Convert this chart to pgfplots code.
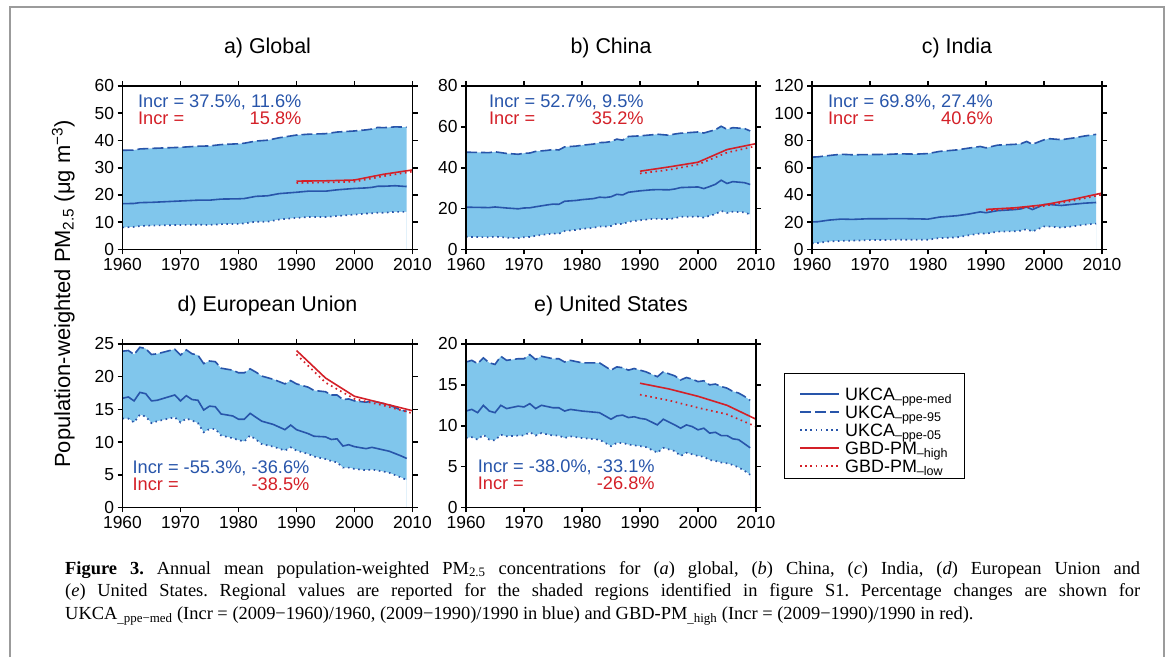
\documentclass[border=0pt]{standalone}
\usepackage{fontspec}
\setmainfont{Liberation Sans}
\newfontfamily\capfont{Liberation Serif}
\usepackage{pgfplots}
\pgfplotsset{compat=1.18}
\usepackage{pgfplotstable}

\definecolor{ukblue}{RGB}{40,85,170}
\definecolor{fillblue}{RGB}{128,198,236}
\definecolor{gbdred}{RGB}{212,32,40}
\definecolor{framegray}{RGB}{155,155,155}

\pgfplotstableread{
yr hi med lo
1960 36.4 16.8 8.1
1962 36.5 16.9 8.3
1963 36.9 17.2 8.6
1965 37.1 17.3 8.8
1970 37.5 17.8 9.0
1973 37.9 18.1 9.1
1975 38.0 18.1 9.0
1977 38.5 18.5 9.3
1980 38.8 18.6 9.4
1981 39.0 18.7 9.6
1983 39.8 19.5 10.2
1985 40.1 19.7 10.2
1987 41.0 20.5 11.0
1990 42.0 21.0 11.6
1992 42.3 21.4 11.9
1995 42.5 21.4 11.9
1997 43.1 21.9 12.3
2000 43.5 22.4 12.8
2002 43.9 22.6 13.2
2003 44.2 22.8 13.3
2004 44.8 23.2 13.5
2005 44.7 23.2 13.5
2007 45.0 23.4 13.8
2009 44.9 23.1 13.8
}\tabA
\pgfplotstableread{
yr high low
1990 25.1 24.4
1995 25.2 24.6
2000 25.5 24.9
2005 27.6 26.9
2010 29.2 28.6
}\redA

\pgfplotstableread{
yr hi med lo
1960 47.6 20.7 6.2
1962 47.5 20.6 6.1
1964 47.4 20.5 6.0
1965 47.8 20.8 6.3
1967 47.0 20.3 5.8
1969 46.6 19.9 5.6
1970 47.1 20.3 6.0
1971 47.2 20.4 6.1
1972 48.0 20.9 6.7
1974 48.5 21.8 7.5
1975 48.9 22.2 7.8
1976 48.7 22.1 7.7
1977 50.2 23.6 9.0
1979 50.6 24.0 9.6
1980 51.0 24.4 10.1
1982 51.6 24.9 10.6
1983 52.3 25.6 11.3
1984 52.4 25.4 11.2
1985 52.8 25.8 11.5
1986 54.0 27.0 12.7
1987 53.5 26.7 12.4
1988 55.3 28.0 13.6
1990 55.6 28.7 14.3
1992 56.1 29.2 14.9
1993 56.4 29.3 15.0
1995 55.9 29.2 14.9
1996 56.5 29.6 15.3
1997 56.9 30.3 16.0
2000 57.5 30.6 16.1
2001 57.0 29.8 15.6
2002 57.8 30.8 16.5
2003 58.6 31.9 17.3
2004 60.3 33.9 18.9
2005 58.8 32.3 17.9
2006 59.6 33.2 18.5
2008 59.2 32.7 18.2
2009 58.0 31.8 17.1
}\tabB
\pgfplotstableread{
yr high low
1990 38.3 37.2
1995 40.4 39.0
2000 42.7 41.6
2005 48.9 47.4
2010 51.8 50.6
}\redB

\pgfplotstableread{
yr hi med lo
1960 67.8 20.2 4.5
1961 68.0 20.4 4.8
1963 69.0 21.6 6.0
1965 69.9 22.3 6.3
1967 69.5 22.1 6.5
1970 69.7 22.6 6.9
1973 69.8 22.6 7.0
1975 70.2 22.7 7.2
1978 70.0 22.5 7.2
1980 70.4 22.3 7.2
1982 72.0 23.8 8.4
1985 73.1 24.8 8.9
1987 74.4 26.0 10.4
1989 75.6 27.6 11.8
1990 74.6 27.0 11.6
1992 76.6 28.5 13.1
1995 77.2 29.3 13.4
1996 77.6 29.8 13.8
1997 79.3 31.2 14.9
1998 77.2 29.3 13.2
2000 80.5 33.0 16.9
2001 81.3 33.0 16.8
2003 80.6 32.3 16.1
2005 81.8 33.2 17.0
2007 83.3 34.0 18.2
2009 84.5 34.5 19.0
}\tabC
\pgfplotstableread{
yr high low
1990 29.4 28.6
1995 30.6 29.8
2000 32.8 32.0
2005 36.8 35.8
2010 41.4 40.3
}\redC

\pgfplotstableread{
yr hi med lo
1960 23.9 16.7 13.6
1961 24.0 16.9 13.6
1962 23.4 16.3 13.0
1963 24.5 17.6 14.2
1964 24.3 17.4 13.9
1965 23.4 16.3 12.9
1966 23.5 16.4 13.2
1969 24.2 17.2 13.8
1970 23.3 16.3 13.0
1971 24.1 17.1 13.6
1972 23.5 16.5 13.3
1973 23.3 16.4 12.9
1974 22.0 14.9 11.5
1975 22.4 15.5 12.0
1976 22.3 15.4 12.0
1977 21.3 14.3 11.0
1979 21.0 14.0 10.6
1980 20.6 13.5 10.3
1981 20.6 13.5 10.1
1982 21.2 14.4 11.0
1983 20.7 13.8 10.4
1984 20.1 13.2 9.7
1986 19.6 12.7 9.3
1988 18.9 11.9 8.7
1989 19.4 12.6 9.2
1990 18.9 11.9 8.7
1992 18.4 11.3 8.2
1993 17.9 10.9 7.8
1995 17.7 10.8 7.4
1996 17.2 10.4 7.1
1997 17.2 10.5 6.9
1998 16.5 9.4 6.1
1999 16.6 9.6 6.1
2000 16.3 9.3 5.9
2002 16.1 9.0 5.7
2003 16.3 9.2 5.8
2005 15.9 8.8 5.5
2006 15.7 8.6 5.3
2008 14.9 7.9 4.6
2009 14.7 7.5 4.2
}\tabD
\pgfplotstableread{
yr high low
1990 24.0 23.4
1995 19.8 19.1
2000 17.0 16.6
2005 15.9 15.6
2010 14.8 14.4
}\redD

\pgfplotstableread{
yr hi med lo
1960 17.8 11.8 8.5
1961 18.0 12.0 8.6
1962 17.6 11.6 8.3
1963 18.3 12.5 8.9
1964 17.7 11.8 8.3
1965 17.5 11.6 8.2
1966 18.5 12.5 8.9
1967 18.0 12.1 8.7
1969 18.2 12.4 8.8
1970 18.2 12.3 8.8
1971 18.7 12.7 9.2
1972 18.1 12.1 8.8
1973 18.5 12.5 9.1
1975 18.2 12.2 8.8
1976 18.2 12.2 8.8
1977 17.8 11.8 8.5
1978 18.0 12.0 8.7
1980 17.7 11.8 8.5
1983 17.7 11.6 8.3
1985 16.8 10.8 7.5
1986 17.2 11.2 7.9
1987 17.1 11.3 7.9
1988 16.8 11.0 7.7
1989 17.0 11.1 7.6
1990 16.8 10.9 7.5
1991 16.6 10.8 7.4
1993 16.0 10.1 6.7
1994 16.6 10.8 7.3
1996 16.1 10.1 6.9
1997 15.6 9.7 6.3
1998 15.9 10.1 6.7
1999 15.7 9.9 6.5
2000 15.4 9.5 6.3
2001 15.5 9.7 6.2
2002 15.0 9.1 5.8
2003 15.1 9.2 5.7
2004 14.8 8.8 5.5
2005 14.6 8.8 5.4
2006 14.2 8.4 5.2
2007 14.0 8.3 4.9
2008 13.6 7.8 4.5
2009 13.1 7.3 4.0
}\tabE
\pgfplotstableread{
yr high low
1990 15.2 13.8
1995 14.5 13.1
2000 13.6 12.2
2005 12.5 11.4
2010 10.8 9.9
}\redE

\newcommand\incrfont{\fontsize{18.3}{20}\selectfont}
\newcommand\titlefont{\fontsize{21.5}{24}\selectfont}

\tikzset{
  hiline/.style={draw=ukblue, line width=1.6bp, dash pattern=on 11bp off 4bp},
  medline/.style={draw=ukblue, line width=1.6bp, solid},
  loline/.style={draw=ukblue, line width=1.7bp, dash pattern=on 1.6bp off 3.6bp},
  rhigh/.style={draw=gbdred, line width=1.6bp, solid},
  rlow/.style={draw=gbdred, line width=1.7bp, dash pattern=on 1.6bp off 3.6bp},
}

\pgfplotsset{
  panel/.style={
    scale only axis, width=290bp, height=163.5bp, anchor=south west,
    xmin=1960, xmax=2010, xtick={1960,1970,1980,1990,2000,2010}, ymin=0,
    axis on top, clip mode=individual,
    axis line style={line width=1.6bp},
    tick style={black, line width=1.6bp},
    tick align=outside, major tick length=5bp,
    /pgf/number format/1000 sep={}, /pgf/number format/assume math mode=true,
    tick label style={font=\fontsize{17.5}{18}\selectfont},
  },
}

\newcommand\panelplots[2]{%
  \addplot[fill=fillblue, draw=none, forget plot] table[x=yr,y=hi]{#1} \closedcycle;
  \addplot[fill=white, draw=none, forget plot] table[x=yr,y=lo]{#1} \closedcycle;
  \addplot[hiline, forget plot] table[x=yr,y=hi]{#1};
  \addplot[loline, forget plot] table[x=yr,y=lo]{#1};
  \addplot[medline, forget plot] table[x=yr,y=med]{#1};
  \addplot[rlow, forget plot] table[x=yr,y=low]{#2};
  \addplot[rhigh, forget plot] table[x=yr,y=high]{#2};
}
% #1 x rel, #2 y rel, #3 blue, #4 red number
\newcommand\incr[4]{%
  \node[anchor=base west, inner sep=0, text=ukblue, font=\incrfont] (t) at (axis description cs:#1,#2) {#3};
  \node[anchor=base west, inner sep=0, text=gbdred, font=\incrfont] at ([yshift=-17bp]t.base west) {Incr =};
  \node[anchor=base east, inner sep=0, text=gbdred, font=\incrfont] at ([yshift=-17bp]t.base east) {#4};
}
\newcommand\paneltitle[1]{%
  \node[anchor=base, inner sep=0, font=\titlefont] at (axis description cs:0.5,1.196) {#1};
}
% legend row: #1 style, #2 y (bp), #3 text
\newcommand\legrow[3]{%
  \draw[#1] (800bp,#2bp) -- (839bp,#2bp);
  \node[anchor=base west, inner sep=0, font=\fontsize{18}{18}\selectfont] at (845bp,#2bp-6.3bp) {#3};
}

\begin{document}
\begin{tikzpicture}
\fill[white] (0,0) rectangle (1169bp,657bp);
\draw[framegray, line width=1.5bp] (10bp,0bp) -- (10bp,650bp) -- (1164bp,650bp) -- (1164bp,0bp);

\begin{axis}[panel, at={(122.5bp,407.5bp)}, ymax=60, ytick={0,10,20,30,40,50,60}]
\panelplots{\tabA}{\redA}
\incr{0.053}{0.866}{Incr = 37.5\%, 11.6\%}{15.8\%}
\paneltitle{a) Global}
\end{axis}

\begin{axis}[panel, at={(466bp,407.5bp)}, ymax=80, ytick={0,20,40,60,80}]
\panelplots{\tabB}{\redB}
\incr{0.079}{0.866}{Incr = 52.7\%, 9.5\%}{35.2\%}
\paneltitle{b) China}
\end{axis}

\begin{axis}[panel, at={(812bp,407.5bp)}, ymax=120, ytick={0,20,40,60,80,100,120}]
\panelplots{\tabC}{\redC}
\incr{0.055}{0.866}{Incr = 69.8\%, 27.4\%}{40.6\%}
\paneltitle{c) India}
\end{axis}

\begin{axis}[panel, at={(122.5bp,149.5bp)}, ymax=25, ytick={0,5,10,15,20,25}]
\panelplots{\tabD}{\redD}
\incr{0.034}{0.207}{Incr = -55.3\%, -36.6\%}{-38.5\%}
\paneltitle{d) European Union}
\end{axis}

\begin{axis}[panel, at={(466bp,149.5bp)}, ymax=20, ytick={0,5,10,15,20}]
\panelplots{\tabE}{\redE}
\incr{0.04}{0.213}{Incr = -38.0\%, -33.1\%}{-26.8\%}
\paneltitle{e) United States}
\end{axis}

% legend
\draw[black, line width=0.9bp] (784bp,284bp) rectangle (964bp,179bp);
\legrow{medline}{263}{UKCA\textsubscript{–ppe-med}}
\legrow{hiline}{245}{UKCA\textsubscript{–ppe-95}}
\legrow{loline}{227}{UKCA\textsubscript{–ppe-05}}
\legrow{rhigh}{209}{GBD-PM\textsubscript{–high}}
\legrow{rlow}{191}{GBD-PM\textsubscript{–low}}

\node[rotate=90, anchor=base, inner sep=0, font=\fontsize{22}{24}\selectfont] at (70bp,363bp)
  {Population-weighted PM\textsubscript{2.5} (μg m\textsuperscript{−3})};

\node[anchor=north west, inner sep=0, text width=1075bp, align=justify,
  font=\capfont\fontsize{18.5}{22.5}\selectfont] at (65bp,96bp)
  {\frenchspacing\textbf{Figure 3.} Annual mean population-weighted PM\textsubscript{2.5} concentrations for (\textit{a}) global, (\textit{b}) China, (\textit{c}) India, (\textit{d}) European Union and\linebreak
  (\textit{e}) United States. Regional values are reported for the shaded regions identified in figure S1. Percentage changes are shown for\linebreak
  UKCA\textsubscript{\_ppe−med} (Incr = (2009−1960)/1960, (2009−1990)/1990 in blue) and GBD-PM\textsubscript{\_high} (Incr = (2009−1990)/1990 in red).};
\end{tikzpicture}
\end{document}
